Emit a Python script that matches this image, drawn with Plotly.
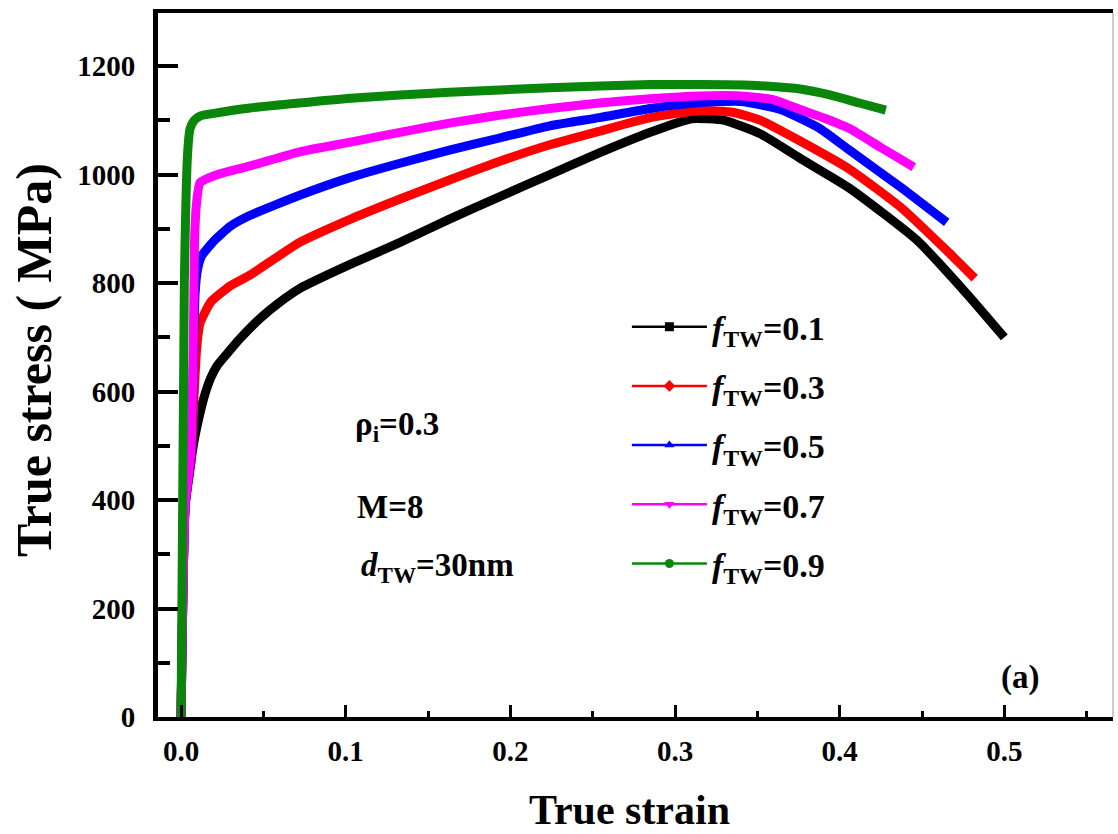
import plotly.graph_objects as go

# True stress-strain curves for different twin volume fractions f_TW
black_x = [0.0, 0.0025, 0.005, 0.008, 0.0115, 0.0145, 0.018, 0.022, 0.028, 0.035, 0.048, 0.06, 0.072,
           0.103, 0.133, 0.163, 0.194, 0.224, 0.254, 0.285, 0.31, 0.33, 0.352, 0.376, 0.406, 0.447, 0.477, 0.5]
black_y = [0, 390, 450, 510, 560, 595, 625, 648, 670, 695, 735, 765, 790,
           835, 875, 918, 960, 1000, 1040, 1078, 1103, 1100, 1075, 1030, 975, 879, 781, 700]

red_x = [0.0, 0.0025, 0.006, 0.008, 0.0095, 0.0115, 0.018, 0.03, 0.042, 0.072, 0.103, 0.133, 0.163,
         0.194, 0.224, 0.254, 0.285, 0.315, 0.335, 0.352, 0.376, 0.406, 0.437, 0.465, 0.482]
red_y = [0, 390, 470, 600, 680, 726, 765, 795, 815, 875, 918, 955, 990,
         1025, 1055, 1080, 1105, 1118, 1115, 1100, 1062, 1010, 940, 860, 809]

blue_x = [0.0, 0.0025, 0.006, 0.0075, 0.0085, 0.01, 0.0125, 0.02, 0.03, 0.042, 0.072, 0.103, 0.133,
          0.163, 0.194, 0.224, 0.254, 0.285, 0.315, 0.34, 0.364, 0.388, 0.406, 0.437, 0.465]
blue_y = [0, 390, 480, 650, 780, 825, 850, 878, 905, 925, 962, 995, 1021,
          1045, 1068, 1090, 1105, 1122, 1133, 1135, 1120, 1085, 1045, 977, 912]

magenta_x = [0.0, 0.0025, 0.006, 0.0075, 0.0082, 0.0095, 0.0115, 0.02, 0.03, 0.042, 0.072, 0.103, 0.133,
             0.163, 0.194, 0.224, 0.254, 0.285, 0.315, 0.34, 0.36, 0.376, 0.39, 0.406, 0.425, 0.445]
magenta_y = [0, 390, 490, 700, 880, 950, 985, 998, 1007, 1016, 1042, 1060, 1078,
             1095, 1110, 1122, 1132, 1140, 1145, 1145, 1138, 1120, 1105, 1085, 1050, 1014]

green_x = [0.0, 0.002, 0.004, 0.0055, 0.008, 0.0115, 0.02, 0.042, 0.103, 0.163, 0.224, 0.285,
           0.346, 0.376, 0.394, 0.412, 0.428]
green_y = [0, 800, 1040, 1085, 1100, 1108, 1113, 1123, 1141, 1152, 1160, 1166,
           1165, 1158, 1147, 1132, 1119]

series_names = ["<i>f</i><sub>TW</sub>=0.1", "<i>f</i><sub>TW</sub>=0.3", "<i>f</i><sub>TW</sub>=0.5",
                "<i>f</i><sub>TW</sub>=0.7", "<i>f</i><sub>TW</sub>=0.9"]
series_colors = ["#000000", "#ff0000", "#0000ff", "#ff00ff", "#0a870a"]
series_symbols = ["square", "diamond", "triangle-up", "triangle-down", "circle"]
series_x = [black_x, red_x, blue_x, magenta_x, green_x]
series_y = [black_y, red_y, blue_y, magenta_y, green_y]

x_ticks = [0.0, 0.1, 0.2, 0.3, 0.4, 0.5]
x_ticktext = ["0.0", "0.1", "0.2", "0.3", "0.4", "0.5"]
y_ticks = [0, 200, 400, 600, 800, 1000, 1200]

FONT = "Liberation Serif"

fig = go.Figure()

# thick curves
for xs, ys, col in zip(series_x, series_y, series_colors):
    fig.add_trace(go.Scatter(x=xs, y=ys, mode="lines",
                             line=dict(color=col, width=9, shape="spline", smoothing=0.5),
                             showlegend=False, hoverinfo="skip"))

# legend entries: thin line with symbol
for i, (name, col, sym) in enumerate(zip(series_names, series_colors, series_symbols)):
    fig.add_trace(go.Scatter(x=[None], y=[None], mode="lines+markers", name=name,
                             legendgroup=f"g{i}",
                             line=dict(color=col, width=2.5),
                             marker=dict(color=col, symbol=sym, size=9)))

fig.update_layout(
    width=1118, height=834,
    margin=dict(l=158, r=5, t=13, b=117),
    paper_bgcolor="white", plot_bgcolor="white",
    font=dict(family=FONT, color="black"),
    showlegend=True,
    legend=dict(x=0.491, xanchor="left", y=0.595, yanchor="top",
                bgcolor="rgba(0,0,0,0)", borderwidth=0,
                font=dict(family=FONT, size=34, color="black", weight="bold"),
                itemwidth=75, tracegroupgap=12, traceorder="grouped"),
    xaxis=dict(range=[-0.014, 0.566], tickvals=x_ticks, ticktext=x_ticktext,
               ticks="inside", ticklen=12, tickwidth=3, tickcolor="black",
               minor=dict(dtick=0.05, tick0=0, ticks="inside", ticklen=6, tickwidth=3, tickcolor="black"),
               showline=True, linewidth=4, linecolor="black", mirror=True,
               showgrid=False, zeroline=False,
               tickfont=dict(family=FONT, size=29, color="black", weight="bold"),
               ticklabelstandoff=5),
    yaxis=dict(range=[0, 1298], tickvals=y_ticks,
               ticks="inside", ticklen=20, tickwidth=4, tickcolor="black",
               minor=dict(dtick=100, tick0=0, ticks="inside", ticklen=12, tickwidth=4, tickcolor="black"),
               showline=True, linewidth=5, linecolor="black",
               showgrid=False, zeroline=False,
               tickfont=dict(family=FONT, size=29, color="black", weight="bold"),
               ticklabelstandoff=12),
)

# faint right frame edge
fig.add_shape(type="line", xref="paper", yref="paper", x0=1, x1=1, y0=0, y1=1,
              line=dict(color="#cccccc", width=2))

ann_font = dict(family=FONT, size=33, color="black", weight="bold")
fig.add_annotation(text="True strain", xref="paper", yref="paper", x=0.494, y=-0.132,
                   xanchor="center", yanchor="middle", showarrow=False,
                   font=dict(family=FONT, size=42, color="black", weight="bold"))
fig.add_annotation(text="True stress ( MPa)", xref="paper", yref="paper", x=-0.13, y=0.507,
                   xanchor="center", yanchor="middle", textangle=-90, showarrow=False,
                   font=dict(family=FONT, size=50, color="black", weight="bold"))
fig.add_annotation(text="ρ<sub>i</sub>=0.3", xref="paper", yref="paper", x=0.204, y=0.412,
                   xanchor="left", yanchor="middle", showarrow=False, font=ann_font)
fig.add_annotation(text="M=8", xref="paper", yref="paper", x=0.206, y=0.298,
                   xanchor="left", yanchor="middle", showarrow=False, font=ann_font)
fig.add_annotation(text="<i>d</i><sub>TW</sub>=30nm", xref="paper", yref="paper", x=0.21, y=0.212,
                   xanchor="left", yanchor="middle", showarrow=False, font=ann_font)
fig.add_annotation(text="(a)", xref="paper", yref="paper", x=0.9026, y=0.0554,
                   xanchor="center", yanchor="middle", showarrow=False, font=ann_font)

fig.write_html("out.html")
